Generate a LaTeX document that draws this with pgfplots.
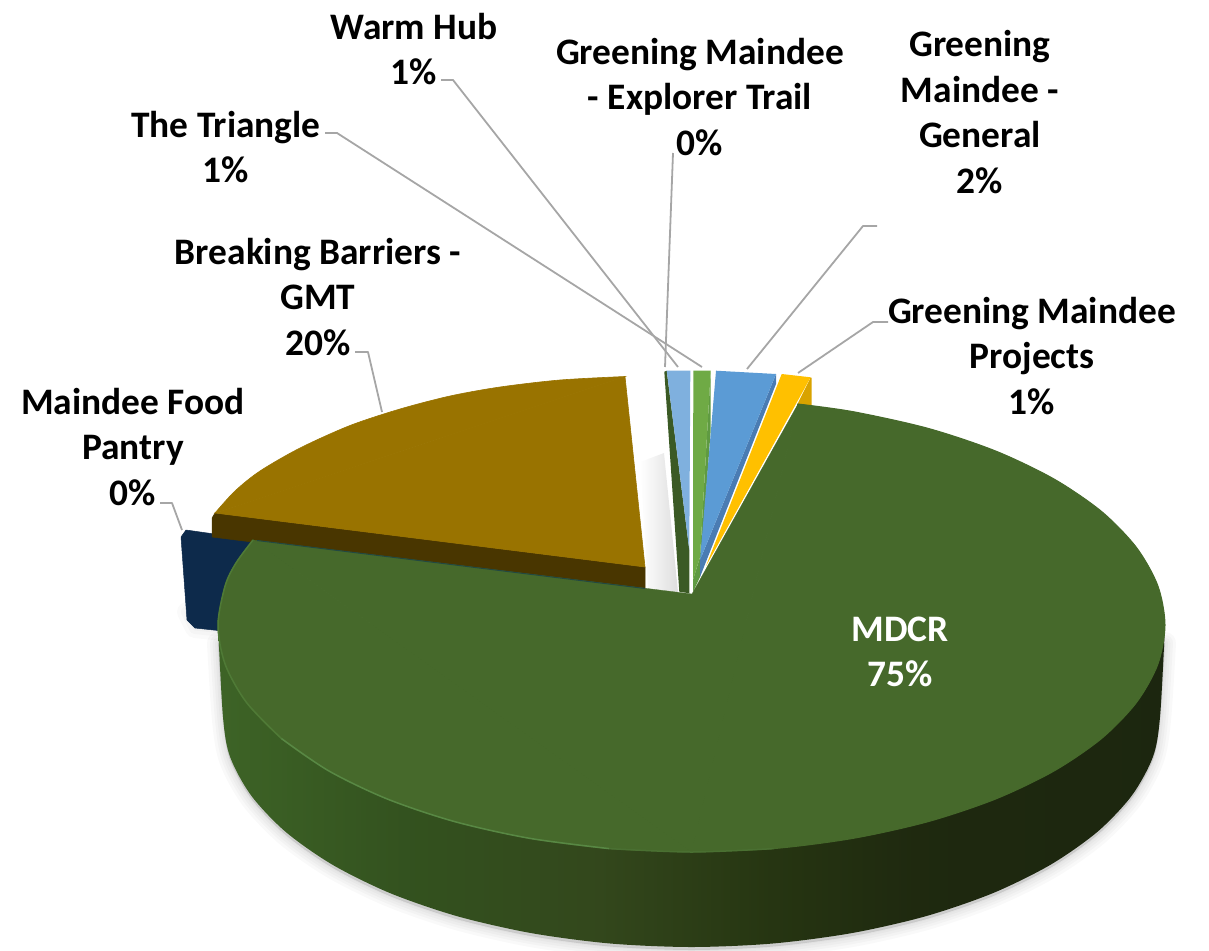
\documentclass[border=0pt]{standalone}
\usepackage{fontspec}
\setmainfont{Carlito}
\usepackage{pgfplots}
\usepackage{pgfplotstable}
\pgfplotsset{compat=1.18}
\pgfdeclarehorizontalshading{sideg}{100bp}{
 rgb(0bp)=(.24,.39,.15); rgb(25bp)=(.24,.39,.15); rgb(35bp)=(.20,.32,.12); rgb(45bp)=(.20,.28,.11);
 rgb(54bp)=(.15,.21,.07); rgb(62bp)=(.12,.16,.06); rgb(75bp)=(.11,.15,.06); rgb(100bp)=(.11,.15,.06)}
\definecolor{leader}{HTML}{A6A6A6}
\definecolor{topg}{HTML}{46692B}
\definecolor{gold}{HTML}{997300}
\definecolor{golddark}{HTML}{493600}
\definecolor{navy}{HTML}{0D2A4B}
\pgfplotstableread{
x y
1165 640
1160 717
1152.9 756.9
1131.7 795.7
1097.2 832
1050.4 864.8
992.7 893.2
925.8 916.2
851.7 933.1
772.8 943.5
691.5 947
610.2 943.5
531.3 933.1
457.2 916.2
390.3 893.2
332.6 864.8
285.8 832
251.3 795.7
230.1 756.9
223 717
218 640
}\sidetable
\pgfplotstableread{
x y
187 612
195 628
260 635
240 600
}\navyshadow
\tikzset{lab/.style={font=\fontsize{37.4}{45.5}\selectfont\bfseries,align=center,anchor=center,inner sep=0pt},
 lead/.style={draw=leader,line width=1.8pt,line join=round}}
\begin{document}
\begin{tikzpicture}
\begin{axis}[width=1209pt,height=950pt,scale only axis,axis lines=none,
 xmin=0,xmax=1209,ymin=0,ymax=950,y dir=reverse,clip=false,no markers]
\path[use as bounding box] (axis cs:0,0) rectangle (axis cs:1209,950);
% soft shadow
\addplot[smooth,draw=black,fill=black,opacity=.022,line width=22pt,line join=round,yshift=-3pt] table {\sidetable} --cycle;
\addplot[smooth,draw=black,fill=black,opacity=.022,line width=16pt,line join=round,yshift=-3pt] table {\sidetable} --cycle;
\addplot[smooth,draw=black,fill=black,opacity=.022,line width=11pt,line join=round,yshift=-3pt] table {\sidetable} --cycle;
\addplot[smooth,draw=black,fill=black,opacity=.022,line width=6pt,line join=round,yshift=-3pt] table {\sidetable} --cycle;
\addplot[smooth,draw=black,fill=black,opacity=.022,line width=2pt,line join=round,yshift=-3pt] table {\sidetable} --cycle;
\addplot[draw=black,fill=black,opacity=.02,line width=20pt,line join=round] table {\navyshadow} --cycle;
\addplot[draw=black,fill=black,opacity=.02,line width=12pt,line join=round] table {\navyshadow} --cycle;
\addplot[draw=black,fill=black,opacity=.02,line width=5pt,line join=round] table {\navyshadow} --cycle;
% shadow in the gap
\addplot[shade,left color=white,right color=black!13,draw=none] coordinates {(640,462)(664,453)(678,592)(648,588)} --cycle;
% Maindee Food Pantry
\addplot[fill=navy,draw=navy,line width=.5pt,line join=round] coordinates {(186,530)(181,537)(187,620)(195,628)(260,635)(300,560)(257,540)} --cycle;
% Breaking Barriers - GMT
\addplot[fill=golddark,draw=golddark,line width=.5pt] coordinates {(215,513)(645,567)(645,591)(212,537)(212,518)} --cycle;
\addplot[fill=gold,draw=gold,line width=.6pt,smooth] coordinates {(215,513)(235,491)(260,471)(300,448)(350,425.5)(400,409)(450,396)(500,387)(560,380)(625,376.5)} --cycle;
\addplot[fill=gold,draw=gold,line width=.6pt] coordinates {(215,513)(625,376.5)(645,567)} --cycle;
% The Triangle
\addplot[fill={rgb,255:red,59;green,90;blue,37},draw=none] coordinates {(664.3,371.7)(666.7,370.7)(689.3,550)(689.3,593.3)(679.3,591.7)} --cycle;
\addplot[fill={rgb,255:red,127;green,176;blue,222},draw=none] coordinates {(666.7,370.7)(690.3,370.7)(689.3,550)} --cycle;
% Warm Hub
\addplot[fill={rgb,255:red,95;green,154;blue,66},draw=none] coordinates {(710.7,370.7)(710.7,430)(700,577)(693,592)(693,580)(700,557)} --cycle;
\addplot[fill={rgb,255:red,111;green,170;blue,69},draw=none] coordinates {(693.3,370.7)(710.7,370.7)(700,557)(693,580)} --cycle;
% Greening Maindee - General
\addplot[fill={rgb,255:red,74;green,124;blue,179},draw=none] coordinates {(776,374)(776,384)(700,577)(700,560)} --cycle;
\addplot[fill={rgb,255:red,91;green,155;blue,213},draw=none] coordinates {(716,370.7)(776,374)(700,560)} --cycle;
% Greening Maindee Projects
\addplot[fill={rgb,255:red,217;green,163;blue,0},draw=none] coordinates {(810.7,377.3)(811.7,378)(811.7,406.7)(797,405)} --cycle;
\addplot[fill={rgb,255:red,255;green,192;blue,0},draw=none] coordinates {(781.7,374)(810.7,377.3)(706,566)} --cycle;
% MDCR side
\addplot[shade,shading=sideg,draw=none,smooth] coordinates {(1165,625)(1160,717)(1152.9,756.9)(1131.7,795.7)(1097.2,832)(1050.4,864.8)(992.7,893.2)(925.8,916.2)(851.7,933.1)(772.8,943.5)(691.5,947)(610.2,943.5)(531.3,933.1)(457.2,916.2)(390.3,893.2)(332.6,864.8)(285.8,832)(251.3,795.7)(230.1,756.9)(223,717)(218,625)} --cycle;
% MDCR top
\addplot[fill=topg,draw=topg,line width=1pt,smooth] coordinates {(798,404)(853.4,411.7)(928.3,428.4)(995.9,451.1)(1054.2,479.1)(1101.6,511.5)(1136.4,547.4)(1157.8,585.6)(1165,625)(1157.8,664.4)(1136.4,702.6)(1101.6,738.5)(1054.2,770.9)(995.9,798.9)(928.3,821.6)(853.4,838.3)(773.7,848.6)(691.5,852)} --cycle;
\addplot[fill=topg,draw=topg,line width=1pt,smooth] coordinates {(691.5,852)(609.3,848.6)(529.6,838.3)(454.7,821.6)(387.1,798.9)(328.8,770.9)(281.4,738.5)(246.6,702.6)(225.2,664.4)(218,625)(225.2,585.6)(236,563)(253,540)} --cycle;
\addplot[fill=topg,draw=topg,line width=.3pt] coordinates {(692,594)(798,404)(691.5,852)(253,540)} --cycle;
% thin edge between the green and the slices behind it
\addplot[draw={rgb,255:red,34;green,72;blue,66},line width=1pt] coordinates {(257,540.5)(645,588.5)};
% rim highlight
\addplot[smooth,draw={rgb,255:red,79;green,122;blue,54},line width=1.5pt] coordinates {(253,540)(236,563)(225.2,585.6)(218,625)(225.2,664.4)(246.6,702.6)(281.4,738.5)};
\addplot[smooth,draw={rgb,255:red,88;green,136;blue,68},line width=1.5pt] coordinates {(281.4,738.5)(328.8,770.9)(387.1,798.9)(454.7,821.6)(529.6,838.3)(609.3,848.6)};
\addplot[smooth,draw={rgb,255:red,74;green,112;blue,50},line width=1.5pt] coordinates {(609.3,848.6)(691.5,852)(773.7,848.6)};
% leader lines
\addplot[lead] coordinates {(441,80)(453,80)(678,367)};
\addplot[lead] coordinates {(325,133)(337,133)(702,367)};
\addplot[lead] coordinates {(673,153)(665,367)};
\addplot[lead] coordinates {(877,226)(863,226)(747,369)};
\addplot[lead] coordinates {(888,322)(873,322)(798,373)};
\addplot[lead] coordinates {(355,352)(368,352)(382,412)};
\addplot[lead] coordinates {(160,503)(172,503)(182,530)};
% labels
\node[lab] at (axis cs:414,49) {Warm Hub\\1\%};
\node[lab] at (axis cs:700,97) {Greening Maindee\\- Explorer Trail\\0\%};
\node[lab] at (axis cs:980,112) {Greening\\Maindee -\\General\\2\%};
\node[lab] at (axis cs:226,147) {The Triangle\\1\%};
\node[lab] at (axis cs:318,297) {Breaking Barriers -\\GMT\\20\%};
\node[lab] at (axis cs:1032,356) {Greening Maindee\\Projects\\1\%};
\node[lab] at (axis cs:133,447) {Maindee Food\\Pantry\\0\%};
\node[lab,text=white] at (axis cs:900,652) {MDCR\\75\%};
\end{axis}
\end{tikzpicture}
\end{document}
